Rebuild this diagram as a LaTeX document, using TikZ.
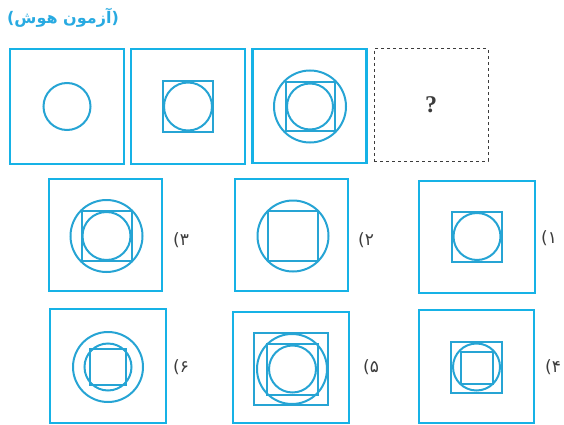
\documentclass[tikz,border=0pt]{standalone}
\usepackage{fontspec}
\newfontfamily\arabicfont[Script=Arabic]{DejaVu Sans}
\newfontfamily\qfont{Liberation Serif}
\TeXXeTstate=1
\definecolor{boxc}{RGB}{22,178,230}
\definecolor{shapec}{RGB}{38,164,212}
\definecolor{titlec}{RGB}{40,170,225}
\definecolor{labc}{RGB}{60,60,60}
\tikzset{
  frame/.style={draw=boxc, line width=2.3pt, rectangle, inner sep=0pt, minimum width=114pt, minimum height=#1},
  frame/.default=113pt,
  ring/.style={draw=shapec, line width=2pt, circle, inner sep=0pt, minimum size=#1},
  sq/.style={draw=shapec, line width=2pt, rectangle, inner sep=0pt, minimum size=#1},
  optlab/.style={text=labc, font=\arabicfont\fontsize{17}{19}\selectfont, inner sep=0pt},
}
\begin{document}
\begin{tikzpicture}[x=1pt,y=-1pt]
\useasboundingbox (0,0) rectangle (564,425);
% title
\node[text=titlec, font=\arabicfont\bfseries\fontsize{16}{18}\selectfont, inner sep=0pt] (title) at (63,18) {\beginR(آزمون هوش)\endR};
% top row
\node[frame=115pt] (f1) at (67,106.5) {};
\node[ring=47pt] (f1a) at (67,106.5) {};
\node[frame=115pt] (f2) at (188,106.5) {};
\node[sq=50pt] (f2a) at (188,106.5) {};
\node[ring=48pt] (f2b) at (188,106.5) {};
\node[frame=114pt] (f3) at (309.5,106) {};
\node[ring=72pt] (f3a) at (310,106.5) {};
\node[sq=49pt] (f3b) at (310,106.5) {};
\node[ring=46pt] (f3c) at (310,106.5) {};
\node[draw=labc, dashed, line width=1pt, rectangle, inner sep=0pt, minimum width=114pt, minimum height=112pt] (f4) at (431,105) {};
\node[text=labc, font=\qfont\bfseries\fontsize{24}{26}\selectfont] (q) at (f4) {?};
% option 3
\node[frame=112pt, minimum width=113pt] (o3) at (105.5,235) {};
\node[ring=72pt] (o3a) at (106.5,236) {};
\node[sq=50pt] (o3b) at (106.5,236) {};
\node[ring=48pt] (o3c) at (106.5,236) {};
\node[optlab] (l3) at (181,240) {۳)};
% option 2
\node[frame=112pt, minimum width=113pt] (o2) at (291.5,235) {};
\node[ring=71pt] (o2a) at (293,236) {};
\node[sq=50pt] (o2b) at (293,236) {};
\node[optlab] (l2) at (366,240) {۲)};
% option 1
\node[frame=112pt, minimum width=116pt] (o1) at (477,237) {};
\node[sq=50pt] (o1a) at (477,236.5) {};
\node[ring=47pt] (o1b) at (477,236.5) {};
\node[optlab] (l1) at (549,238) {۱)};
% option 6
\node[frame=114pt, minimum width=116pt] (o6) at (108,366) {};
\node[ring=70pt] (o6a) at (108,367) {};
\node[ring=47pt] (o6b) at (108,367) {};
\node[sq=36pt] (o6c) at (108,367) {};
\node[optlab] (l6) at (181,367) {۶)};
% option 5
\node[frame=111pt, minimum width=116pt] (o5) at (291,367.5) {};
\node[draw=shapec, line width=2pt, rectangle, inner sep=0pt, minimum width=74pt, minimum height=72pt] (o5a) at (291,369) {};
\node[ring=70pt] (o5b) at (292,369) {};
\node[sq=51pt] (o5c) at (292.5,369) {};
\node[ring=47pt] (o5d) at (292.5,369) {};
\node[optlab] (l5) at (371,367) {۵)};
% option 4
\node[frame=113pt, minimum width=115pt] (o4) at (476.5,366.5) {};
\node[sq=51pt] (o4a) at (476.5,367) {};
\node[ring=47pt] (o4b) at (476.5,367) {};
\node[sq=32pt] (o4c) at (477,368) {};
\node[optlab] (l4) at (553,367) {۴)};
\end{tikzpicture}
\end{document}
